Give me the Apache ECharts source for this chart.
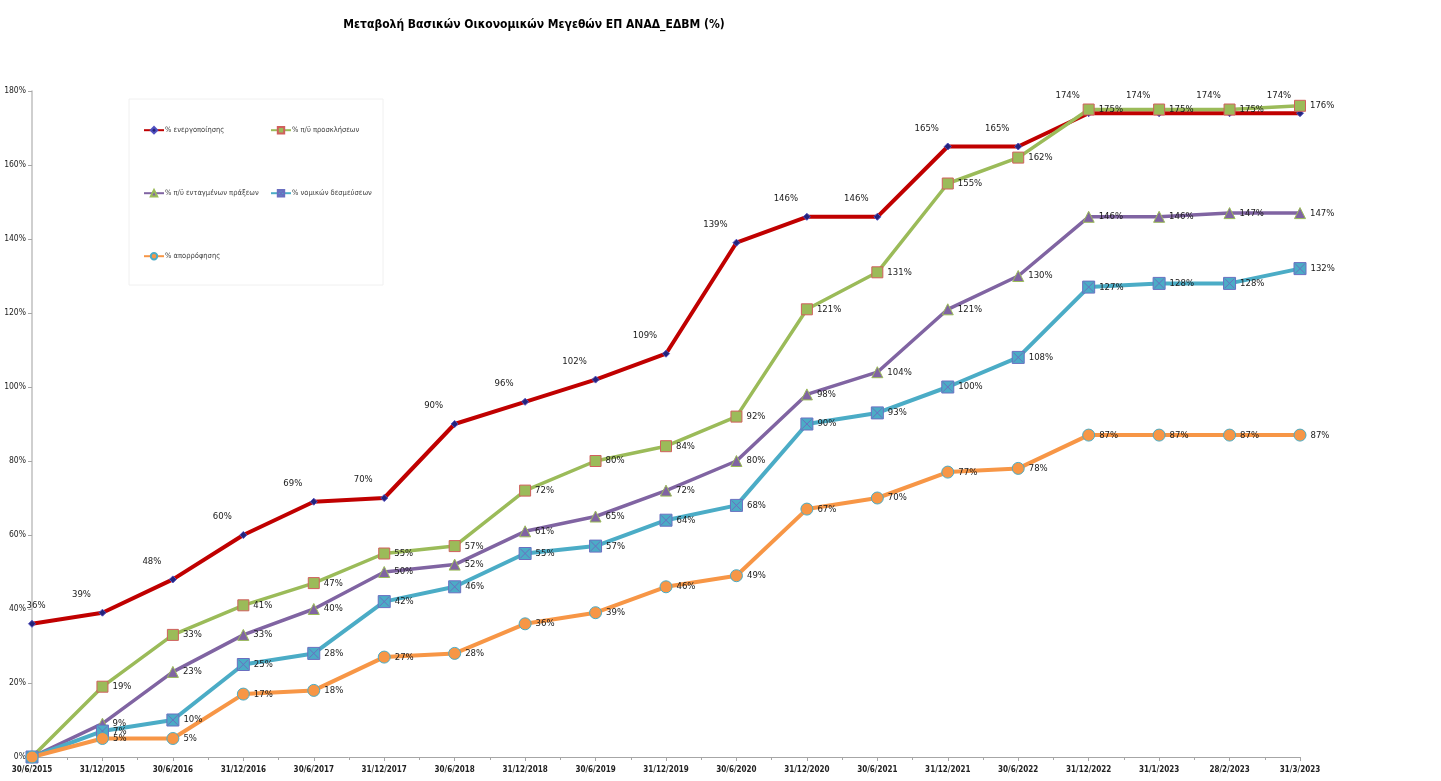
<!DOCTYPE html>
<html>
<head>
<meta charset="utf-8">
<script src="https://cdn.jsdelivr.net/npm/echarts@6/dist/echarts.min.js"></script>
<style>
  html, body { margin: 0; padding: 0; background: #fff; }
  #chart_con { width: 1441px; height: 781px; }
</style>
</head>
<body>
<div id="chart_con"></div>
<script>
// categories (report dates)
var dates = [
  "30/6/2015", "31/12/2015", "30/6/2016", "31/12/2016", "30/6/2017",
  "31/12/2017", "30/6/2018", "31/12/2018", "30/6/2019", "31/12/2019",
  "30/6/2020", "31/12/2020", "30/6/2021", "31/12/2021", "30/6/2022",
  "31/12/2022", "31/1/2023", "28/2/2023", "31/3/2023"
];
var seriesNames = [
  "% ενεργοποίησης",
  "% π/ϋ προσκλήσεων",
  "% π/ϋ ενταγμένων πράξεων",
  "% νομικών δεσμεύσεων",
  "% απορρόφησης"
];
// values in %
var activation = [36, 39, 48, 60, 69, 70, 90, 96, 102, 109, 139, 146, 146, 165, 165, 174, 174, 174, 174];
var calls = [0, 19, 33, 41, 47, 55, 57, 72, 80, 84, 92, 121, 131, 155, 162, 175, 175, 175, 176];
var integrated = [0, 9, 23, 33, 40, 50, 52, 61, 65, 72, 80, 98, 104, 121, 130, 146, 146, 147, 147];
var commitments = [0, 7, 10, 25, 28, 42, 46, 55, 57, 64, 68, 90, 93, 100, 108, 127, 128, 128, 132];
var absorption = [0, 5, 5, 17, 18, 27, 28, 36, 39, 46, 49, 67, 70, 77, 78, 87, 87, 87, 87];
var yTicks = [0, 20, 40, 60, 80, 100, 120, 140, 160, 180];

var FONT = "'Liberation Sans Narrow', 'DejaVu Sans Condensed', 'Open Sans', sans-serif";

let chart = echarts.init(document.getElementById("chart_con"));

var labelFmt = function(p) {
  return p.value === 0 ? "" : p.value + "%";
};
var labelBase = {
  show: true,
  formatter: labelFmt,
  fontFamily: FONT,
  fontSize: 9.5,
  color: "#1a1a1a"
};

function legendAt(name, left, top) {
  return {
    data: [name],
    left: left,
    top: top,
    itemWidth: 20,
    itemHeight: 8,
    itemGap: 0,
    padding: 0,
    textStyle: { fontFamily: FONT, fontSize: 7.5, color: "#404040", padding: [0, 0, 0, -4] }
  };
}

let option = {
  backgroundColor: "#fff",
  animation: false,
  title: {
    text: "Μεταβολή Βασικών Οικονομικών Μεγεθών ΕΠ ΑΝΑΔ_ΕΔΒΜ (%)",
    left: 529,
    textAlign: "center",
    top: 14,
    textStyle: { fontFamily: FONT, fontSize: 12, fontWeight: "bold", color: "#000" }
  },
  graphic: [
    {
      type: "rect",
      shape: { x: 129, y: 99, width: 254, height: 186 },
      style: { fill: "none", stroke: "#F0F0F0", lineWidth: 1 },
      silent: true
    }
  ],
  legend: [
    legendAt(seriesNames[0], 143, 126),
    legendAt(seriesNames[1], 270, 126),
    legendAt(seriesNames[2], 143, 189),
    legendAt(seriesNames[3], 270, 189),
    legendAt(seriesNames[4], 143, 252)
  ],
  grid: { left: 32, right: 141, top: 91, bottom: 24, containLabel: false },
  xAxis: [
    {
      type: "category",
      boundaryGap: false,
      data: dates,
      axisLine: { lineStyle: { color: "#A6A6A6", width: 1 } },
      axisTick: { show: true, length: 4, lineStyle: { color: "#A6A6A6" }, alignWithLabel: true },
      axisLabel: {
        interval: 0,
        fontFamily: FONT,
        fontSize: 8,
        fontWeight: "bold",
        color: "#222",
        margin: 9
      }
    },
    {
      // half-step minor ticks
      type: "value",
      min: 0,
      max: 18,
      interval: 0.5,
      position: "bottom",
      axisLine: { show: false },
      axisTick: { show: true, length: 3, lineStyle: { color: "#A6A6A6" } },
      axisLabel: { show: false },
      splitLine: { show: false }
    }
  ],
  yAxis: {
    type: "value",
    min: yTicks[0],
    max: yTicks[yTicks.length - 1],
    interval: 20,
    axisLine: { show: true, lineStyle: { color: "#BFBFBF", width: 1.5 } },
    axisTick: { show: true, length: 4, lineStyle: { color: "#A6A6A6" } },
    splitLine: { show: false },
    axisLabel: {
      formatter: "{value}%",
      fontFamily: FONT,
      fontSize: 8.5,
      color: "#222",
      margin: 6
    }
  },
  series: [
    {
      name: seriesNames[0],
      type: "line",
      data: activation,
      symbol: "diamond",
      symbolSize: 7,
      itemStyle: { color: "#23237A", borderColor: "#5050C0", borderWidth: 1 },
      lineStyle: { color: "#C00000", width: 4 },
      label: Object.assign({}, labelBase, { position: "inside" }),
      // labels sit up-left of the points; the first one stays right of the y axis
      labelLayout: function(p) {
        return { dx: p.dataIndex === 0 ? 4 : -21, dy: -18 };
      }
    },
    {
      name: seriesNames[1],
      type: "line",
      data: calls,
      symbol: "rect",
      symbolSize: 11,
      itemStyle: { color: "#9BBB59", borderColor: "#D0605D", borderWidth: 1 },
      lineStyle: { color: "#9BBB59", width: 3.5 },
      label: Object.assign({}, labelBase, { position: "right", distance: 4 })
    },
    {
      name: seriesNames[2],
      type: "line",
      data: integrated,
      symbol: "triangle",
      symbolSize: 11,
      itemStyle: { color: "#8064A2", borderColor: "#9BBB59", borderWidth: 1 },
      lineStyle: { color: "#8064A2", width: 3.5 },
      label: Object.assign({}, labelBase, { position: "right", distance: 4 })
    },
    {
      name: seriesNames[3],
      type: "line",
      data: commitments,
      symbol: "path://M0,0 L10,0 L10,10 L0,10 Z M1,1 L9,9 M9,1 L1,9",
      symbolSize: 12,
      itemStyle: { color: "#4BACC6", borderColor: "#6A6FC0", borderWidth: 1 },
      lineStyle: { color: "#4BACC6", width: 4 },
      label: Object.assign({}, labelBase, { position: "right", distance: 4 })
    },
    {
      name: seriesNames[4],
      type: "line",
      data: absorption,
      symbol: "circle",
      symbolSize: 12,
      itemStyle: { color: "#F79646", borderColor: "#4BACC6", borderWidth: 1 },
      lineStyle: { color: "#F79646", width: 4 },
      label: Object.assign({}, labelBase, { position: "right", distance: 4 })
    }
  ]
};

chart.setOption(option);

window.addEventListener("resize", function() {
  chart.resize();
});
</script>
</body>
</html>
